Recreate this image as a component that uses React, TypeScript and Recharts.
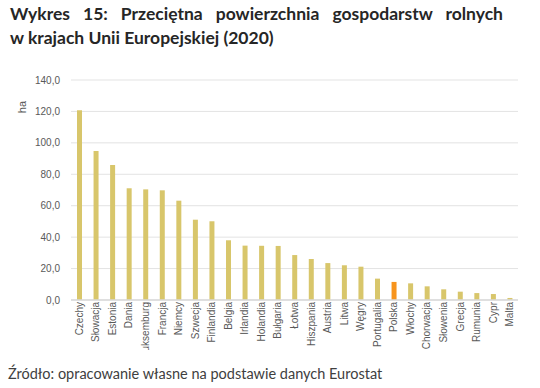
import React from 'react';
import { BarChart, Bar, XAxis, YAxis, CartesianGrid, Cell } from 'recharts';

const countries = [
  'Czechy', 'Słowacja', 'Estonia', 'Dania', 'Luksemburg', 'Francja', 'Niemcy', 'Szwecja', 'Finlandia',
  'Belgia', 'Irlandia', 'Holandia', 'Bułgaria', 'Łotwa', 'Hiszpania', 'Austria', 'Litwa', 'Węgry',
  'Portugalia', 'Polska', 'Włochy', 'Chorwacja', 'Słowenia', 'Grecja', 'Rumunia', 'Cypr', 'Malta',
];
const areaHa = [
  120.8, 94.8, 85.9, 71.1, 70.4, 69.8, 63.2, 51.1, 50.1,
  38.0, 34.6, 34.5, 34.4, 28.6, 26.1, 23.5, 22.1, 21.2,
  13.6, 11.5, 10.6, 8.7, 6.8, 5.3, 4.4, 3.8, 1.3,
];
const yTicks = [0, 20, 40, 60, 80, 100, 120, 140];
const highlight = 'Polska';

const data = countries.map((c, i) => ({ name: c, value: areaHa[i] }));

const XTick = (props: any) => {
  const { x, y, payload } = props;
  return (
    <text
      x={x}
      y={y}
      dy="0.35em"
      transform={`rotate(-90, ${x}, ${y})`}
      textAnchor="end"
      fontSize={10}
      fontFamily="'Liberation Sans', Arial, sans-serif"
      fill="#595959"
    >
      {payload.value}
    </text>
  );
};

export default function App() {
  return (
    <div style={{ position: 'absolute', left: 0, top: 0, width: 540, height: 388, background: '#fff', overflow: 'hidden' }}>
      <div
        style={{
          position: 'absolute',
          left: 10,
          top: 2,
          width: 493,
          fontFamily: 'Lato, sans-serif',
          fontWeight: 700,
          fontSize: 17.5,
          lineHeight: '23.5px',
          color: '#262626',
        }}
      >
        <div style={{ textAlign: 'justify', textAlignLast: 'justify' }}>
          Wykres 15: Przeciętna powierzchnia gospodarstw rolnych
        </div>
        <div>w krajach Unii Europejskiej (2020)</div>
      </div>
      <div style={{ position: 'absolute', left: 0, top: 0 }}>
        <BarChart width={540} height={350} data={data} margin={{ top: 80, right: 22, bottom: 0, left: 0 }}>
          <CartesianGrid vertical={false} stroke="#E3E3E3" />
          <XAxis
            dataKey="name"
            interval={0}
            height={50}
            tickLine={false}
            tickSize={0}
            tickMargin={2}
            axisLine={{ stroke: '#D9D9D9', strokeWidth: 1.5 }}
            tick={<XTick />}
          />
          <YAxis
            width={71}
            domain={[0, 140]}
            ticks={yTicks}
            tickLine={false}
            axisLine={false}
            tickSize={0}
            tickMargin={11}
            tickFormatter={(v: number) => v.toFixed(1).replace('.', ',')}
            tick={{ fontSize: 10, fill: '#595959', fontFamily: "'Liberation Sans', Arial, sans-serif" }}
          />
          <Bar dataKey="value" barSize={5} isAnimationActive={false}>
            {data.map((d) => (
              <Cell key={d.name} fill={d.name === highlight ? '#F7941D' : '#D8C66B'} />
            ))}
          </Bar>
        </BarChart>
      </div>
      <div
        style={{
          position: 'absolute',
          left: 22,
          top: 107,
          transform: 'translate(-50%, -50%) rotate(-90deg)',
          fontFamily: "'Liberation Sans', Arial, sans-serif",
          fontSize: 11,
          color: '#595959',
        }}
      >
        ha
      </div>
      <div
        style={{
          position: 'absolute',
          left: 8,
          top: 366,
          fontFamily: 'Lato, sans-serif',
          fontSize: 14.5,
          lineHeight: '16px',
          color: '#404040',
          whiteSpace: 'nowrap',
        }}
      >
        Źródło: opracowanie własne na podstawie danych Eurostat
      </div>
    </div>
  );
}
